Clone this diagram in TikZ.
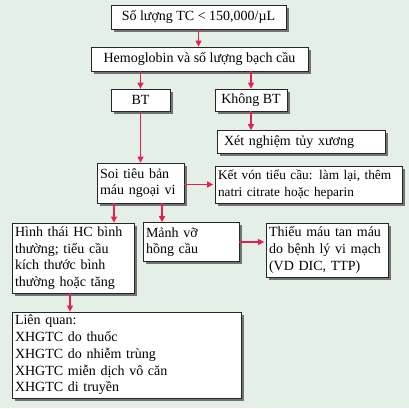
\documentclass[tikz,border=0pt]{standalone}
\usepackage{fontspec}
\setmainfont{Liberation Serif}
\usetikzlibrary{shadows,arrows.meta,calc}
\definecolor{bgc}{RGB}{228,240,231}
\definecolor{arr}{RGB}{232,30,82}
\tikzset{
  box/.style={draw=black!85, fill=white, line width=0.8pt, inner xsep=3pt, inner ysep=0pt,
    drop shadow={shadow xshift=2.5pt, shadow yshift=-2.5pt, fill=black!55, opacity=1},
    font=\fontsize{14}{16.7}\selectfont},
  arrow/.style={draw=arr, line width=1.3pt, -{Triangle[length=6pt,width=6pt]}}
}
\begin{document}
\begin{tikzpicture}[x=1pt,y=-1pt]
\fill[bgc] (0,0) rectangle (409,408);
\useasboundingbox (0,0) rectangle (409,408);
\node[box, minimum width=175pt, minimum height=24pt, align=center] (n1) at (198.5,17) {Số lượng TC < 150,000/µL};
\node[box, minimum width=217pt, minimum height=24pt, align=center] (n2) at (199.5,59) {Hemoglobin và số lượng bạch cầu};
\node[box, minimum width=59pt, minimum height=22pt, align=center] (bt) at (140.5,100) {BT};
\node[box, minimum width=72pt, minimum height=22pt, align=center] (kbt) at (251,100) {Không BT};
\node[box, text width=162pt, minimum height=23pt, align=left] (xn) at (301,142) {\hspace{4pt}Xét nghiệm tủy xương};
\node[box, text width=81pt, minimum height=40pt, align=left] (soi) at (140.5,183) {Soi tiêu bản\\máu ngoại vi};
\node[box, text width=181pt, minimum height=37pt, align=left, font=\fontsize{13.3}{16.7}\selectfont] (kv) at (308.5,184.5) {\mbox{Kết vón tiểu cầu: làm lại, thêm}\\\mbox{natri citrate hoặc heparin}};
\node[box, text width=116pt, minimum height=70pt, align=left] (ht) at (73,258) {Hình thái HC bình\\thường; tiểu cầu\\kích thước bình\\thường hoặc tăng};
\node[box, text width=90pt, minimum height=39pt, align=left] (mv) at (191,242) {Mảnh vỡ\\hồng cầu};
\node[box, text width=116pt, minimum height=54pt, align=left] (tm) at (327,250) {Thiếu máu tan máu\\do bệnh lý vi mạch\\(VD DIC, TTP)};
\node[box, text width=223pt, minimum height=86pt, align=left] (lq) at (126.5,355) {Liên quan:\\XHGTC do thuốc\\XHGTC do nhiễm trùng\\XHGTC miễn dịch vô căn\\XHGTC di truyền};
\draw[arrow] (n1.south) -- (n1.south |- n2.north);
\draw[arrow] (bt.north |- n2.south) -- (bt.north);
\draw[arrow] (kbt.north |- n2.south) -- (kbt.north);
\draw[arrow] (kbt.south) -- (kbt.south |- xn.north);
\draw[arrow] (bt.south) -- (soi.north);
\draw[arrow] (soi.east |- kv.west) -- ([xshift=-1.5pt]kv.west);
\draw[arrow] ([xshift=-26.5pt]soi.south) -- ([xshift=-26.5pt]soi.south |- ht.north);
\draw[arrow] ([xshift=21.5pt]soi.south) -- ([xshift=21.5pt]soi.south |- mv.north);
\draw[arrow] (mv.east) -- ([xshift=-1.5pt]mv.east -| tm.west);
\draw[arrow] ([xshift=-3pt]ht.south) -- ([xshift=-3pt]ht.south |- lq.north);
\end{tikzpicture}
\end{document}
